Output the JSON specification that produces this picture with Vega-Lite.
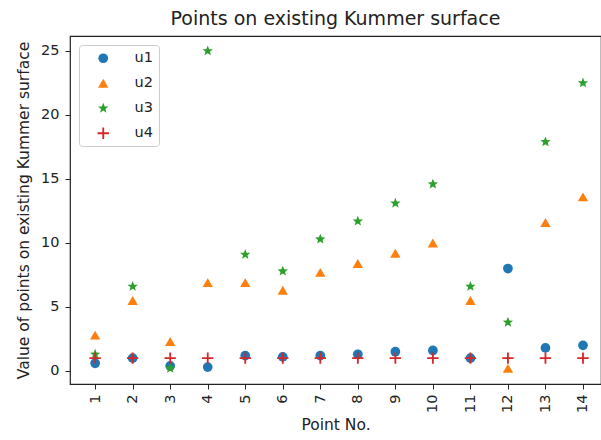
{
  "$schema": "https://vega.github.io/schema/vega-lite/v6.json",
  "width": 531,
  "height": 348,
  "autosize": {"type": "none"},
  "padding": {"left": 70, "top": 36, "right": 0, "bottom": 56},
  "background": "white",
  "config": {
    "font": "DejaVu Sans",
    "view": {"stroke": "#222222", "strokeWidth": 1.2},
    "axis": {"grid": false, "domain": false, "tickColor": "#222", "tickSize": 5, "labelColor": "#222", "titleColor": "#222", "labelFontSize": 14.5, "titleFontSize": 15.5, "titleFontWeight": "normal", "labelFont": "DejaVu Sans", "titleFont": "DejaVu Sans"}
  },
  "title": {"text": "Points on existing Kummer surface", "fontSize": 19, "fontWeight": "normal", "font": "DejaVu Sans", "color": "#222", "offset": 7},
  "data": {"values": [
    {"point": 1, "series": "u1", "value": 0.6}, {"point": 1, "series": "u2", "value": 2.8}, {"point": 1, "series": "u3", "value": 1.3}, {"point": 1, "series": "u4", "value": 1.0},
    {"point": 2, "series": "u1", "value": 1.0}, {"point": 2, "series": "u2", "value": 5.5}, {"point": 2, "series": "u3", "value": 6.6}, {"point": 2, "series": "u4", "value": 1.0},
    {"point": 3, "series": "u1", "value": 0.4}, {"point": 3, "series": "u2", "value": 2.3}, {"point": 3, "series": "u3", "value": 0.2}, {"point": 3, "series": "u4", "value": 1.0},
    {"point": 4, "series": "u1", "value": 0.3}, {"point": 4, "series": "u2", "value": 6.9}, {"point": 4, "series": "u3", "value": 25.0}, {"point": 4, "series": "u4", "value": 1.0},
    {"point": 5, "series": "u1", "value": 1.2}, {"point": 5, "series": "u2", "value": 6.9}, {"point": 5, "series": "u3", "value": 9.1}, {"point": 5, "series": "u4", "value": 1.0},
    {"point": 6, "series": "u1", "value": 1.1}, {"point": 6, "series": "u2", "value": 6.3}, {"point": 6, "series": "u3", "value": 7.8}, {"point": 6, "series": "u4", "value": 1.0},
    {"point": 7, "series": "u1", "value": 1.2}, {"point": 7, "series": "u2", "value": 7.7}, {"point": 7, "series": "u3", "value": 10.3}, {"point": 7, "series": "u4", "value": 1.0},
    {"point": 8, "series": "u1", "value": 1.3}, {"point": 8, "series": "u2", "value": 8.4}, {"point": 8, "series": "u3", "value": 11.7}, {"point": 8, "series": "u4", "value": 1.0},
    {"point": 9, "series": "u1", "value": 1.5}, {"point": 9, "series": "u2", "value": 9.2}, {"point": 9, "series": "u3", "value": 13.1}, {"point": 9, "series": "u4", "value": 1.0},
    {"point": 10, "series": "u1", "value": 1.6}, {"point": 10, "series": "u2", "value": 10.0}, {"point": 10, "series": "u3", "value": 14.6}, {"point": 10, "series": "u4", "value": 1.0},
    {"point": 11, "series": "u1", "value": 1.0}, {"point": 11, "series": "u2", "value": 5.5}, {"point": 11, "series": "u3", "value": 6.6}, {"point": 11, "series": "u4", "value": 1.0},
    {"point": 12, "series": "u1", "value": 8.0}, {"point": 12, "series": "u2", "value": 0.2}, {"point": 12, "series": "u3", "value": 3.8}, {"point": 12, "series": "u4", "value": 1.0},
    {"point": 13, "series": "u1", "value": 1.8}, {"point": 13, "series": "u2", "value": 11.6}, {"point": 13, "series": "u3", "value": 17.9}, {"point": 13, "series": "u4", "value": 1.0},
    {"point": 14, "series": "u1", "value": 2.0}, {"point": 14, "series": "u2", "value": 13.6}, {"point": 14, "series": "u3", "value": 22.5}, {"point": 14, "series": "u4", "value": 1.0}
  ]},
  "mark": {"type": "point", "filled": true, "opacity": 1},
  "encoding": {
    "x": {"field": "point", "type": "quantitative", "scale": {"domain": [0.33, 14.48], "nice": false, "zero": false},
      "axis": {"values": [1,2,3,4,5,6,7,8,9,10,11,12,13,14], "labelAngle": 270, "labelPadding": 5, "title": "Point No.", "titlePadding": 5}},
    "y": {"field": "value", "type": "quantitative", "scale": {"domain": [-1.02, 26.17], "nice": false, "zero": false},
      "axis": {"values": [0, 5, 10, 15, 20, 25], "labelPadding": 6, "title": "Value of points on existing Kummer surface", "titlePadding": 9}},
    "color": {"field": "series", "type": "nominal", "scale": {"domain": ["u1", "u2", "u3", "u4"], "range": ["#1f77b4", "#ff7f0e", "#2ca02c", "#d62728"]},
      "legend": {"title": null, "orient": "none", "legendX": 9, "legendY": 9, "padding": 6, "symbolOffset": 11, "labelOffset": 24, "rowPadding": 10, "labelFontSize": 14.5, "labelColor": "#222", "strokeColor": "#cccccc", "fillColor": "white", "cornerRadius": 3}},
    "shape": {"field": "series", "type": "nominal", "scale": {"domain": ["u1", "u2", "u3", "u4"], "range": ["circle", "triangle-up", "M0,-1L0.26,-0.33L0.951,-0.309L0.41,0.14L0.588,0.809L0,0.43L-0.588,0.809L-0.41,0.14L-0.951,-0.309L-0.26,-0.33Z", "M-1,-0.16H-0.16V-1H0.16V-0.16H1V0.16H0.16V1H-0.16V0.16H-1Z"]}},
    "size": {"field": "series", "type": "nominal", "scale": {"domain": ["u1", "u2", "u3", "u4"], "range": [95, 130, 175, 90]}}
  }
}
